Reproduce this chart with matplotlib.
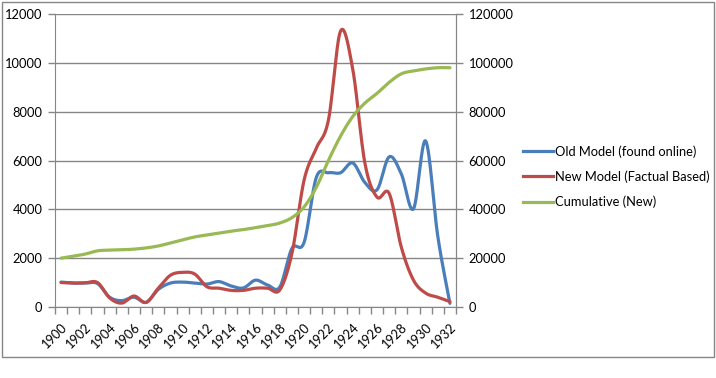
import numpy as np
import matplotlib
matplotlib.use("Agg")
import matplotlib.pyplot as plt
from matplotlib.patches import Rectangle
from matplotlib.lines import Line2D

years = list(range(1900, 1933))
old_model = [1020, 980, 980, 960, 400, 260, 400, 190, 720, 980, 1020, 980, 940, 1040, 860, 780,
             1100, 900, 820, 2400, 2650, 5300, 5500, 5500, 5900, 5100, 4800, 6150, 5450, 4020,
             6800, 2900, 150]
new_model = [1000, 980, 990, 1000, 370, 160, 450, 190, 770, 1300, 1420, 1350, 830, 770, 680, 680,
             770, 770, 700, 2200, 5200, 6500, 7650, 11300, 9750, 5900, 4500, 4650, 2450, 1100,
             570, 400, 220]
cumulative = [20000, 20800, 21700, 23000, 23300, 23400, 23700, 24200, 25000, 26200, 27500, 28700,
              29500, 30300, 31100, 31700, 32500, 33300, 34400, 36600, 41000, 49000, 60000, 70000,
              78000, 83500, 87500, 92000, 95500, 96700, 97500, 98000, 98000]
labels = ["Old Model (found online)", "New Model (Factual Based)", "Cumulative (New)"]
colors = ["#4A7EBB", "#BE4B48", "#98B954"]


def smooth(xv, yv, n=30):
    # Excel-style smoothed line (Catmull-Rom Bezier segments)
    x = np.asarray(xv, float)
    y = np.asarray(yv, float)
    px = np.concatenate([[x[0]], x, [x[-1]]])
    py = np.concatenate([[y[0]], y, [y[-1]]])
    t = np.linspace(0, 1, n)[:, None]
    outx, outy = [], []
    for i in range(len(x) - 1):
        p0x, p1x, p2x, p3x = px[i], px[i + 1], px[i + 2], px[i + 3]
        p0y, p1y, p2y, p3y = py[i], py[i + 1], py[i + 2], py[i + 3]
        c1x = p1x + (p2x - p0x) / 6
        c1y = p1y + (p2y - p0y) / 6
        c2x = p2x - (p3x - p1x) / 6
        c2y = p2y - (p3y - p1y) / 6
        bx = (1 - t) ** 3 * p1x + 3 * (1 - t) ** 2 * t * c1x + 3 * (1 - t) * t ** 2 * c2x + t ** 3 * p2x
        by = (1 - t) ** 3 * p1y + 3 * (1 - t) ** 2 * t * c1y + 3 * (1 - t) * t ** 2 * c2y + t ** 3 * p2y
        outx.append(bx.ravel())
        outy.append(by.ravel())
    return np.concatenate(outx), np.concatenate(outy)


plt.rcParams['font.family'] = ['Lato', 'DejaVu Sans']
W, H = 716, 378
fig = plt.figure(figsize=(W / 100, H / 100), dpi=100)
fig.patch.set_facecolor("white")

# outer chart border
fig.add_artist(Rectangle((1.5 / W, 1 - 356.5 / H), 712.5 / W, 355 / H, transform=fig.transFigure,
                         fill=False, edgecolor="#868686", linewidth=1.0))

ax = fig.add_axes([55 / W, 71 / H, 401 / W, 293 / H])
ax2 = ax.twinx()

xi = np.arange(len(years))
gc = "#868686"
fs = 9.3

ax.set_ylim(0, 12000)
ax.set_yticks(np.arange(0, 12001, 2000))
ax2.set_ylim(0, 120000)
ax2.set_yticks(np.arange(0, 120001, 20000))
ax.set_xlim(-0.5, len(years) - 0.5)

ax.grid(axis="y", color=gc, linewidth=1.0)
ax.set_axisbelow(True)

for s in ["top"]:
    ax.spines[s].set_visible(False)
    ax2.spines[s].set_visible(False)
for s in ["left", "right", "bottom"]:
    ax2.spines[s].set_color(gc)
    ax.spines[s].set_color(gc)
ax2.spines["left"].set_visible(False)
ax2.spines["bottom"].set_visible(False)

ax.tick_params(axis="y", colors=gc, labelcolor="black", labelsize=fs, length=5, width=1, pad=4)
ax2.tick_params(axis="y", colors=gc, labelcolor="black", labelsize=fs, length=5, width=1, pad=4)

ax.set_xticks(xi[::2])
ax.set_xticklabels([str(y) for y in years[::2]], rotation=45, ha="right", va="top",
                   rotation_mode="anchor", fontsize=fs)
ax.set_xticks(np.arange(-0.5, len(years), 1.0), minor=True)
ax.tick_params(axis="x", which="major", length=0, pad=10, labelcolor="black")
ax.tick_params(axis="x", which="minor", length=5, width=1, color=gc)

for vals, c in zip([old_model, new_model], colors[:2]):
    sx, sy = smooth(xi, vals)
    ax.plot(sx, sy, color=c, linewidth=2.3, solid_capstyle="round")
sx, sy = smooth(xi, cumulative)
ax2.plot(sx, sy, color=colors[2], linewidth=2.3, solid_capstyle="round")

handles = [Line2D([], [], color=c, linewidth=2.3) for c in colors]
fig.legend(handles, labels, loc="upper left", bbox_to_anchor=(523 / W, 1 - 145 / H),
           frameon=False, fontsize=fs, handlelength=2.3, handletextpad=0.2, labelspacing=1.0,
           borderpad=0, borderaxespad=0)

fig.savefig("out.png", dpi=100, facecolor="white")
